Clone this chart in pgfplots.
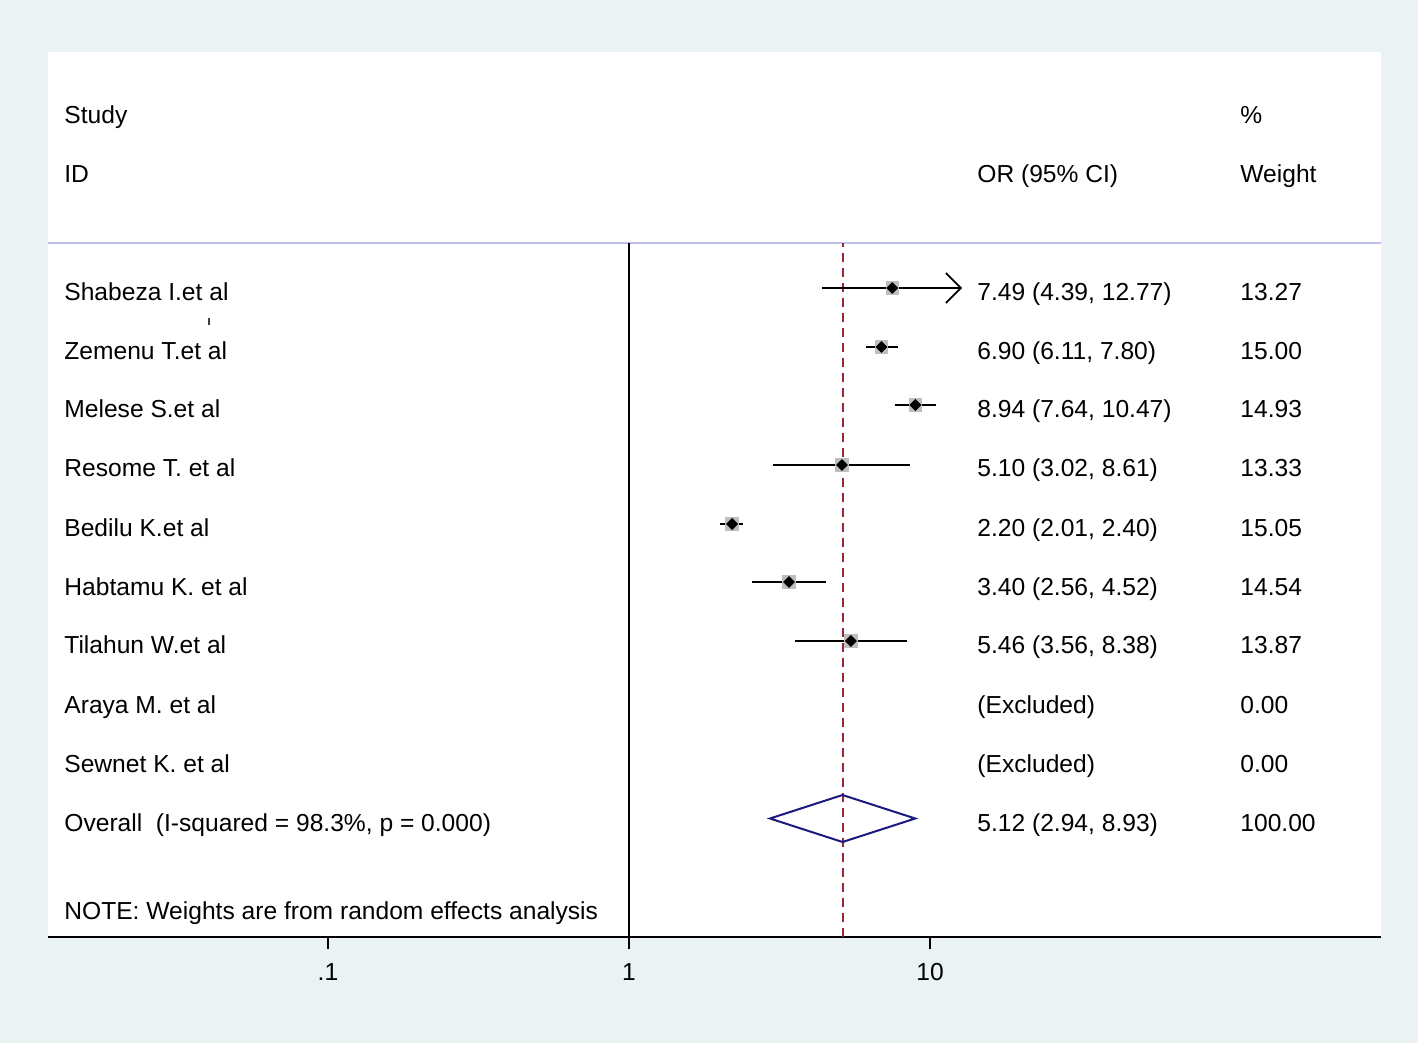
\documentclass[border=0pt]{standalone}
\usepackage{pgfplots}
\pgfplotsset{compat=1.18}
\usepackage{pgfplotstable}
\usepackage{fontspec}
\setmainfont{Liberation Sans}
\usetikzlibrary{arrows.meta}
\definecolor{bgc}{RGB}{234,242,243}
\definecolor{lav}{RGB}{190,190,235}
\definecolor{redd}{RGB}{150,40,50}
\definecolor{navyd}{RGB}{26,26,128}
\definecolor{sqgray}{RGB}{190,190,190}

% OR, lower CI, upper CI, weight, y position
\pgfplotstableread{
or   lo   hi    w     y
7.49 4.39 12.77 13.27 755
6.90 6.11 7.80  15.00 696
8.94 7.64 10.47 14.93 638
5.10 3.02 8.61  13.33 578
2.20 2.01 2.40  15.05 519
3.40 2.56 4.52  14.54 461
5.46 3.56 8.38  13.87 402
}\studies

\newcommand{\tf}{\fontsize{12.3}{14}\selectfont}

\begin{document}
\begin{tikzpicture}[x=0.5pt,y=-0.5pt]
\fill[bgc] (0,0) rectangle (1418,1043);
\fill[white] (48,52) rectangle (1381,937);
\begin{axis}[
  at={(24pt,-468.5pt)}, anchor=south west,
  scale only axis, width=666.5pt, height=442.5pt,
  xmode=log, xmin=0.01175, xmax=314.8, ymin=106, ymax=991,
  axis x line*=bottom, axis y line=none,
  axis line style={black, line width=1pt},
  xtick={0.1,1,10}, xticklabels={.1,1,10},
  xminorticks=false, ymajorticks=false,
  tick align=outside, major tick length=6pt,
  tick style={black, line width=0.75pt},
  xticklabel style={anchor=base, yshift=-15.5pt, font=\tf},
  clip=false,
]
\addplot[lav, line width=0.6pt] coordinates {(0.01175,800) (314.8,800)};
\addplot[black, line width=1pt] coordinates {(1,106) (1,800)};
\addplot[redd, line width=1pt, dash pattern=on 4.5pt off 3pt] coordinates {(5.12,106) (5.12,800)};
\addplot[sqgray, only marks, mark=square*, mark size=3.1pt, mark options={fill=sqgray, draw=sqgray}] table[x=or, y=y] {\studies};
\addplot[black, line width=0.8pt, -{Straight Barb[length=7.5pt,width=15pt]}] coordinates {(4.39,755) (12.77,755)};
\addplot[black, line width=0.8pt] coordinates {(6.11,696) (7.80,696)};
\addplot[black, line width=0.8pt] coordinates {(7.64,638) (10.47,638)};
\addplot[black, line width=0.8pt] coordinates {(3.02,578) (8.61,578)};
\addplot[black, line width=0.8pt] coordinates {(2.01,519) (2.40,519)};
\addplot[black, line width=0.8pt] coordinates {(2.56,461) (4.52,461)};
\addplot[black, line width=0.8pt] coordinates {(3.56,402) (8.38,402)};
\addplot[only marks, mark=diamond*, mark size=2.7pt, mark options={fill=black, draw=black, xscale=1.33}] table[x=or, y=y] {\studies};
\addplot[navyd, line width=1pt] coordinates {(2.94,224.5) (5.12,248) (8.93,224.5) (5.12,201)} -- cycle;
\end{axis}

\draw[black!75, line width=1pt] (209,318) -- (209,325);

\begin{scope}[every node/.style={anchor=base west, inner sep=0pt, font=\tf}]
\node at (64,124) {Study};
\node at (64,183) {ID};
\node at (1240,124) {\%};
\node at (977,183) {OR (95\% CI)};
\node at (1240,183) {Weight};

\node at (64,300) {Shabeza I.et al};
\node at (64,359) {Zemenu T.et al};
\node at (64,417) {Melese S.et al};
\node at (64,476) {Resome T. et al};
\node at (64,536) {Bedilu K.et al};
\node at (64,595) {Habtamu K. et al};
\node at (64,653) {Tilahun W.et al};
\node at (64,713) {Araya M. et al};
\node at (64,772) {Sewnet K. et al};
\node at (64,831) {Overall\ \ (I-squared = 98.3\%, p = 0.000)};
\node at (64,919) {NOTE: Weights are from random effects analysis};

\node at (977,300) {7.49 (4.39, 12.77)};
\node at (977,359) {6.90 (6.11, 7.80)};
\node at (977,417) {8.94 (7.64, 10.47)};
\node at (977,476) {5.10 (3.02, 8.61)};
\node at (977,536) {2.20 (2.01, 2.40)};
\node at (977,595) {3.40 (2.56, 4.52)};
\node at (977,653) {5.46 (3.56, 8.38)};
\node at (977,713) {(Excluded)};
\node at (977,772) {(Excluded)};
\node at (977,831) {5.12 (2.94, 8.93)};

\node at (1240,300) {13.27};
\node at (1240,359) {15.00};
\node at (1240,417) {14.93};
\node at (1240,476) {13.33};
\node at (1240,536) {15.05};
\node at (1240,595) {14.54};
\node at (1240,653) {13.87};
\node at (1240,713) {0.00};
\node at (1240,772) {0.00};
\node at (1240,831) {100.00};
\end{scope}
\end{tikzpicture}
\end{document}
